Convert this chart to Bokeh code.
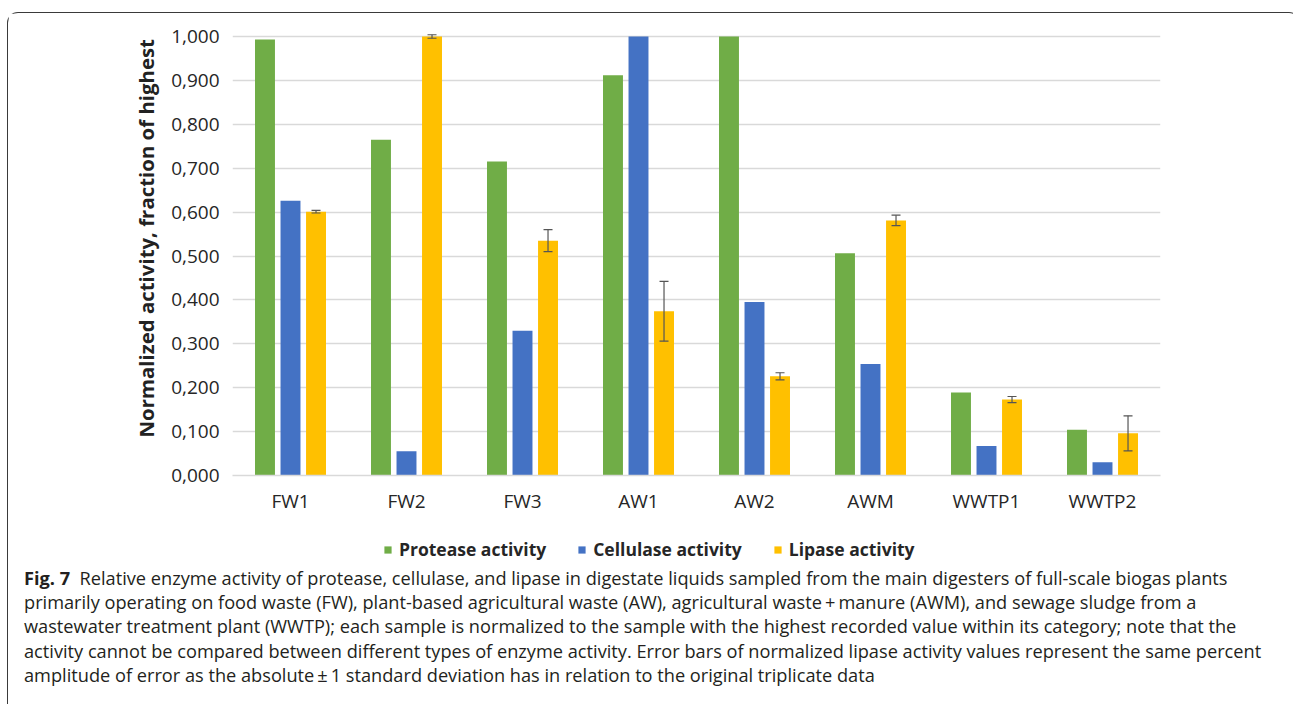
from bokeh.plotting import figure
from bokeh.layouts import column
from bokeh.models import (FactorRange, Range1d, ColumnDataSource, Whisker, TeeHead,
                          Legend, LegendItem, CustomJSTickFormatter, FixedTicker, Div)
from bokeh.transform import dodge
from bokeh.embed import file_html
from bokeh.resources import INLINE

# ---------------- data ----------------
samples = ["FW1", "FW2", "FW3", "AW1", "AW2", "AWM", "WWTP1", "WWTP2"]
protease = [0.993, 0.765, 0.715, 0.912, 1.000, 0.506, 0.189, 0.104]
cellulase = [0.626, 0.055, 0.330, 1.000, 0.395, 0.254, 0.067, 0.030]
lipase = [0.601, 1.000, 0.535, 0.374, 0.226, 0.581, 0.173, 0.096]
lipase_err = [0.003, 0.004, 0.025, 0.068, 0.008, 0.012, 0.007, 0.040]
y_ticks = [0.0, 0.1, 0.2, 0.3, 0.4, 0.5, 0.6, 0.7, 0.8, 0.9, 1.0]
series_names = ["Protease activity", "Cellulase activity", "Lipase activity"]
series_colors = ["#70AD47", "#4472C4", "#FFC000"]
y_title = "Normalized activity, fraction of highest"
fig_label = "Fig. 7"
caption_lines = [
    "Relative enzyme activity of protease, cellulase, and lipase in digestate liquids sampled from the main digesters of full-scale biogas plants",
    "primarily operating on food waste (FW), plant-based agricultural waste (AW), agricultural waste\u2009+\u2009manure (AWM), and sewage sludge from a",
    "wastewater treatment plant (WWTP); each sample is normalized to the sample with the highest recorded value within its category; note that the",
    "activity cannot be compared between different types of enzyme activity. Error bars of normalized lipase activity values represent the same percent",
    "amplitude of error as the absolute\u2009\u00b1\u20091 standard deviation has in relation to the original triplicate data",
]

src = ColumnDataSource(dict(
    sample=samples, protease=protease, cellulase=cellulase, lipase=lipase,
    upper=[v + e for v, e in zip(lipase, lipase_err)],
    lower=[v - e for v, e in zip(lipase, lipase_err)],
))

# ---------------- layout constants (page px) ----------------
X0, Y0 = 8, 13            # canvas origin on the page (inside the rounded box)
W = 1281
CHART_END = 525           # page y where the chart canvas ends
LEG_END = 561             # page y where the legend strip ends / caption starts
FRAME_L, FRAME_R, FRAME_T, FRAME_B = 232, 1160, 27, 475
PX_PER_UNIT_Y = 439.0

p = figure(width=W, height=CHART_END - Y0, x_range=FactorRange(*samples, range_padding=0),
           y_range=Range1d(0, (FRAME_B - FRAME_T) / PX_PER_UNIT_Y),
           output_backend="svg", toolbar_location=None,
           min_border_left=FRAME_L - X0, min_border_right=X0 + W - FRAME_R,
           min_border_top=FRAME_T - Y0, min_border_bottom=CHART_END - FRAME_B)
p.outline_line_color = None
p.background_fill_color = "white"
p.border_fill_color = "white"

bw = 0.172
off = 0.22
r1 = p.vbar(x=dodge("sample", -off, range=p.x_range), top="protease", width=bw, source=src,
            fill_color=series_colors[0], line_color=None)
r2 = p.vbar(x=dodge("sample", 0.0, range=p.x_range), top="cellulase", width=bw, source=src,
            fill_color=series_colors[1], line_color=None)
r3 = p.vbar(x=dodge("sample", off, range=p.x_range), top="lipase", width=bw, source=src,
            fill_color=series_colors[2], line_color=None)

wh = Whisker(source=src, base=dodge("sample", off, range=p.x_range), upper="upper", lower="lower",
             line_color="#555555", line_width=1.2, level="overlay",
             upper_head=TeeHead(size=9, line_color="#555555", line_width=1.2),
             lower_head=TeeHead(size=9, line_color="#555555", line_width=1.2))
p.add_layout(wh)

# axes
p.xgrid.grid_line_color = None
p.ygrid.grid_line_color = "#D9D9D9"
p.ygrid.grid_line_width = 1.5
p.yaxis.ticker = FixedTicker(ticks=y_ticks)
p.yaxis.formatter = CustomJSTickFormatter(code="return tick.toFixed(3).replace('.', ',');")
for ax in (p.xaxis[0], p.yaxis[0]):
    ax.major_tick_line_color = None
    ax.minor_tick_line_color = None
    ax.major_label_text_font = "Open Sans"
    ax.major_label_text_font_size = "19px"
    ax.major_label_text_color = "#262626"
p.yaxis.axis_line_color = None
p.xaxis.axis_line_color = "#D9D9D9"
p.xaxis.axis_line_width = 1.5
p.yaxis.major_label_standoff = 7
p.xaxis.major_label_standoff = 6
# leading no-break spaces nudge the centred title towards the top, as in the reference
p.yaxis.axis_label = "\u00a0" * 5 + y_title
p.yaxis.axis_label_text_font = "Open Sans"
p.yaxis.axis_label_text_font_size = "20.4px"
p.yaxis.axis_label_text_font_style = "bold"
p.yaxis.axis_label_text_color = "#222222"
p.yaxis.axis_label_standoff = 8

# legend strip (its frame is aligned with the chart frame by the column layout)
q = figure(width=W, height=LEG_END - CHART_END, x_range=Range1d(0, 1), y_range=Range1d(0, 1),
           output_backend="svg", toolbar_location=None, min_border=0,
           x_axis_type=None, y_axis_type=None)
q.outline_line_color = None
q.xgrid.grid_line_color = None
q.ygrid.grid_line_color = None
q.border_fill_color = "white"
# legend keys: one point each, lying outside the strip's visible ranges
key = [q.vbar(x=[-5.0], top=[-5.0], bottom=[-6.0], width=0.1, fill_color=c, line_color=None)
       for c in series_colors]
legend = Legend(items=[LegendItem(label=n, renderers=[k]) for n, k in zip(series_names, key)],
                orientation="horizontal", location=(383 - FRAME_L, 0),
                glyph_width=9, glyph_height=9, label_standoff=7, spacing=31, padding=0,
                margin=0, border_line_color=None, background_fill_alpha=0,
                label_text_font="Open Sans", label_text_font_size="17.5px",
                label_text_font_style="bold",
                label_text_color="#262626", label_height=20)
q.add_layout(legend, "center")

# caption
html_lines = ["<b>%s</b>&nbsp;&nbsp;%s" % (fig_label, caption_lines[0])] + caption_lines[1:]
cap = Div(text="<br>".join(html_lines), width=W, height=703 - LEG_END,
          styles={"font-family": "'Open Sans', sans-serif", "font-size": "18.2px",
                  "line-height": "24.2px", "color": "#231F20", "white-space": "nowrap",
                  "padding-left": "%dpx" % (19 - X0)})

layout = column(p, q, cap, spacing=0,
                styles={"margin-left": "7px", "margin-top": "12px",
                        "border-top": "1px solid #3a3a3a", "border-left": "1px solid #3a3a3a",
                        "border-right": "1px solid #3a3a3a", "border-radius": "11px 11px 0 0",
                        "background-color": "white"})

open("out.html", "w").write(file_html(layout, INLINE))
